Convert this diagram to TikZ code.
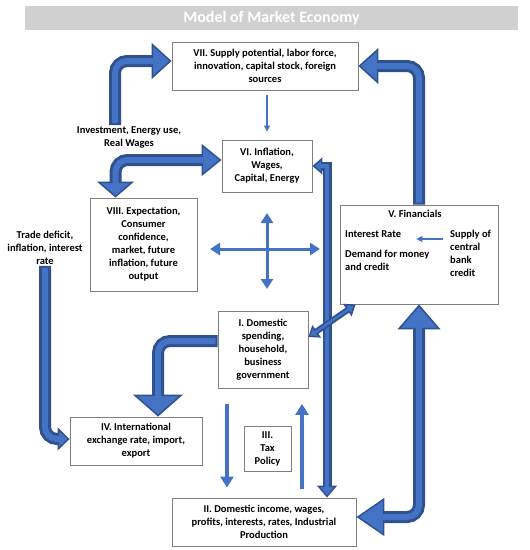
\documentclass[tikz,border=0pt]{standalone}
\usepackage{fontspec}
\setmainfont{Carlito}
\usetikzlibrary{arrows.meta}

\definecolor{arrowdark}{HTML}{2F528F}
\definecolor{arrowmid}{HTML}{4472C4}
\definecolor{boxline}{HTML}{7F7F7F}
\definecolor{titlegray}{HTML}{D0D0D0}

\tikzset{
	box/.style={draw=boxline, line width=0.9pt, rectangle, fill=white, align=center, inner sep=1pt, font=\bfseries\fontsize{10.5}{13}\selectfont},
	freetext/.style={align=center, inner sep=1pt, font=\bfseries\fontsize{10.5}{13}\selectfont},
	titlebar/.style={fill=titlegray, minimum width=493pt, minimum height=24pt, text=white, font=\bfseries\fontsize{16}{18}\selectfont},
	fat/.style={draw=arrowdark, line width=12pt, rounded corners=12pt},
	fatcore/.style={draw=arrowmid, line width=6pt, rounded corners=12pt},
	blockhead/.tip={Triangle[color=arrowdark, fill=arrowmid, line width=1.5pt]},
	thinarr/.style={draw=arrowmid, line width=1.2pt, -{Triangle[width=6pt, length=6pt]}},
	crossarr/.style={draw=arrowmid, line width=3pt, {Triangle[width=12pt, length=10pt]}-{Triangle[width=12pt, length=10pt]}},
	taxarr/.style={draw=arrowmid, line width=4.5pt, -{Triangle[width=13pt, length=11pt]}},
}

% outer dark band with its head, then the light stripe on the same path
\newcommand{\blockarrow}[3]{\draw [fat,#1] #3; \draw [fatcore,#2] #3;}

\begin{document}
\begin{tikzpicture}[x=1pt,y=-1pt]
	\useasboundingbox (0,0) rectangle (530,550);

	% title
	\node [titlebar] at (271.5,18) (title){Model of Market Economy};

	% boxes
	\node [box, minimum width=186pt, minimum height=48pt] at (265,66) (vii){VII. Supply potential, labor force,\\ innovation, capital stock, foreign\\ sources};
	\node [box, minimum width=90pt, minimum height=52pt] at (267,166) (vi){VI. Inflation,\\ Wages,\\ Capital, Energy};
	\node [box, minimum width=107pt, minimum height=93pt] at (143.5,244.5) (viii){VIII. Expectation,\\ Consumer\\ confidence,\\ market, future\\ inflation, future\\ output};
	\node [box, minimum width=158pt, minimum height=99pt] at (419,254.5) (fin){};
	\node [box, minimum width=90pt, minimum height=77pt] at (263,350) (i){I. Domestic\\ spending,\\ household,\\ business\\ government};
	\node [box, minimum width=132pt, minimum height=48pt] at (136,441) (iv){IV. International\\ exchange rate, import,\\ export};
	\node [box, minimum width=47pt, minimum height=45pt] at (267.5,448.5) (iii){III.\\ Tax\\ Policy};
	\node [box, minimum width=184pt, minimum height=48pt] at (264,522) (ii){II. Domestic income, wages,\\ profits, interests, rates, Industrial\\ Production};

	% inside V
	\node [freetext] at (415,214) (fintitle){V. Financials};
	\node [freetext, anchor=west] at (344,234) (rate){Interest Rate};
	\node [freetext, anchor=west, align=left] at (344,260.5) (demand){Demand for money\\ and credit};
	\node [freetext, anchor=west, align=left] at (449,253.5) (supply){Supply of\\ central\\ bank\\ credit};

	% free labels
	\node [freetext] at (129,137) (inv){Investment, Energy use,\\ Real Wages};
	\node [freetext] at (45,248) (trade){Trade deficit,\\ inflation, interest\\ rate};

	% block arrows
	\blockarrow{-{blockhead[width=36pt, length=20pt]}}{shorten <=2pt, shorten >=17pt}{([xshift=-14pt]inv.north) |- ([yshift=5pt]vii.west)}
	\blockarrow{-{blockhead[width=36pt, length=20pt]}}{shorten <=2pt, shorten >=17pt}{(fin.north) |- (vii.east)}
	\blockarrow{{blockhead[width=37pt, length=16pt]}-{blockhead[width=32pt, length=20pt]}}{shorten <=13pt, shorten >=17pt}{([xshift=-28pt]viii.north) |- ([yshift=6pt]vi.west)}
	\blockarrow{-{blockhead[width=23pt, length=12pt]}}{shorten <=2pt, shorten >=9pt}{(trade.south) |- ([yshift=2pt]iv.west)}
	\blockarrow{-{blockhead[width=50pt, length=22pt]}}{shorten <=2pt, shorten >=19pt}{([yshift=9pt]i.west) -| ([xshift=22pt]iv.north)}
	\blockarrow{{blockhead[width=43pt, length=25pt]}-{blockhead[width=38pt, length=28pt]}}{shorten <=22pt, shorten >=25pt}{(fin.south) |- ([yshift=5pt]ii.east)}
	\blockarrow{{blockhead[width=20pt, length=12pt]}-{blockhead[width=17pt, length=10pt]}, line width=9pt, rounded corners=0pt}{line width=3.5pt, rounded corners=0pt, shorten <=10pt, shorten >=8pt}{([xshift=63pt]ii.north) |- (vi.east)}
	\blockarrow{{blockhead[width=15pt, length=10pt]}-{blockhead[width=15pt, length=10pt]}, line width=6pt}{line width=2.5pt, shorten <=8pt, shorten >=8pt}{([yshift=13pt]i.east) -- ([xshift=16pt]fin.south west)}

	% thin arrows
	\draw [thinarr, shorten <=5pt, shorten >=8pt] ([xshift=2pt]vii.south) -- ([xshift=2pt]vii.south |- vi.north);
	\draw [thinarr, shorten <=6pt, shorten >=14pt] ([yshift=-5pt]rate.east -| supply.west) -- ([yshift=-5pt]rate.east);

	% cross
	\coordinate (hubL) at (210,249);
	\coordinate (hubR) at (320,249);
	\coordinate (hubT) at (267,213);
	\coordinate (hubB) at (267,289);
	\draw [crossarr] (hubL) -- (hubR);
	\draw [crossarr] (hubT) -- (hubB);

	% tax policy arrows
	\draw [taxarr, shorten <=15pt, shorten >=10pt] ([xshift=-36pt]i.south) -- ([xshift=-36pt]i.south |- ii.north);
	\draw [taxarr, shorten <=9pt, shorten >=15pt] ([xshift=39pt]i.south |- ii.north) -- ([xshift=39pt]i.south);

\end{tikzpicture}
\end{document}
